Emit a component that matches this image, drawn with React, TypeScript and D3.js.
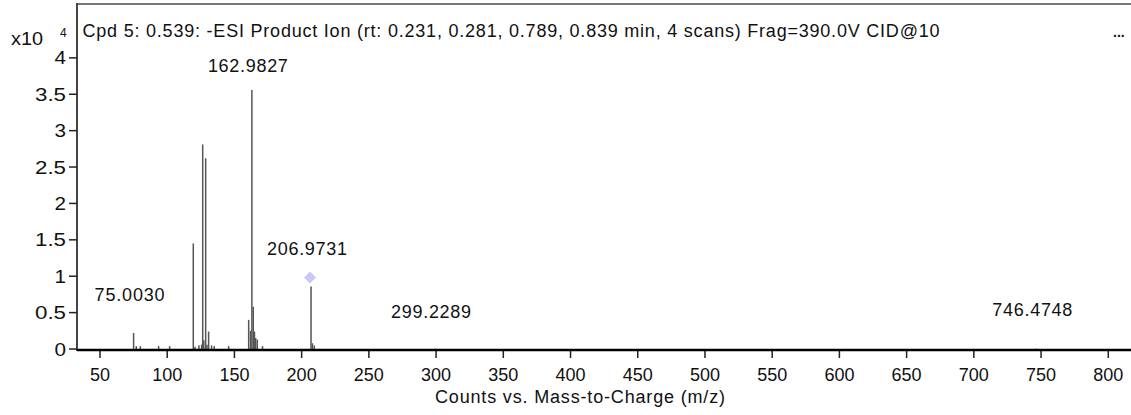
import React from "react";
import * as d3 from "d3";

const mzValues = [75.003, 77.0, 80.0, 93.6, 101.8, 119.4, 120.7, 123.6, 125.6, 126.4, 127.2, 128.6, 129.6, 130.8, 133.0, 135.0, 145.7, 160.6, 162.0, 162.9827, 164.0, 164.9, 165.8, 167.0, 170.9, 206.9731, 208.0, 209.4, 299.2289, 746.4748];
const intensities = [0.22, 0.04, 0.04, 0.04, 0.04, 1.45, 0.03, 0.05, 0.06, 2.81, 0.12, 2.62, 0.06, 0.24, 0.05, 0.04, 0.04, 0.40, 0.25, 3.56, 0.58, 0.24, 0.15, 0.13, 0.04, 0.86, 0.08, 0.05, 0.005, 0.005];
const labelMz = [75.003, 162.9827, 206.9731, 299.2289, 746.4748];
const labelText = ["75.0030", "162.9827", "206.9731", "299.2289", "746.4748"];
const labelLevel = [0.66, 3.8, 1.29, 0.42, 0.45];
const precursorMz = 206.9731;
const xTicks = [50, 100, 150, 200, 250, 300, 350, 400, 450, 500, 550, 600, 650, 700, 750, 800];
const yTicks = [0, 0.5, 1, 1.5, 2, 2.5, 3, 3.5, 4];
const title = "Cpd 5: 0.539: -ESI Product Ion (rt: 0.231, 0.281, 0.789, 0.839 min, 4 scans) Frag=390.0V CID@10";
const xTitle = "Counts vs. Mass-to-Charge (m/z)";

const W = 1131;
const H = 415;
const FONT = "'Liberation Sans', Arial, sans-serif";

export default function App() {
  const x = d3.scaleLinear().domain([32.9, 816.9]).range([77, 1131]);
  const y = d3.scaleLinear().domain([0, 4.74]).range([349, 4]);
  const peaks = mzValues.map((m, i) => ({ m, v: intensities[i] }));
  const precIdx = mzValues.indexOf(precursorMz);
  const px = x(precursorMz) - 1;
  const py = y(intensities[precIdx]) - 9;
  const fmt = d3.format("");

  return (
    <svg width={W} height={H} style={{ position: "absolute", left: 0, top: 0, background: "#fff" }} fontFamily={FONT}>
      {/* top border */}
      <line x1={77} x2={W} y1={4} y2={4} stroke="#777" strokeWidth={2} />
      {/* y axis */}
      <line x1={77} x2={77} y1={3} y2={351} stroke="#444" strokeWidth={2} />
      {yTicks.map((t) => {
        const s = fmt(t);
        return (
          <g key={"y" + t}>
            <line x1={69} x2={77} y1={y(t)} y2={y(t)} stroke="#222" strokeWidth={1.5} />
            <text x={66} y={y(t) + 6.5} textAnchor="end" fontSize={18} fill="#111"
              textLength={s.length > 1 ? 31 : 11.5} lengthAdjust="spacingAndGlyphs">{s}</text>
          </g>
        );
      })}
      {/* x axis */}
      {xTicks.map((t) => (
        <g key={"x" + t}>
          <line x1={x(t)} x2={x(t)} y1={350} y2={358} stroke="#222" strokeWidth={1.5} />
          <text x={x(t)} y={381} textAnchor="middle" fontSize={18} fill="#111">{t}</text>
        </g>
      ))}
      {/* peaks */}
      {peaks.map((p, i) => (
        <line key={"p" + i} x1={x(p.m)} x2={x(p.m)} y1={y(0)} y2={y(p.v)} stroke="#555" strokeWidth={1.5} />
      ))}
      <line x1={77} x2={W} y1={350} y2={350} stroke="#000" strokeWidth={2.5} />
      {/* precursor diamond */}
      <path d={`M${px},${py - 6} L${px + 6},${py} L${px},${py + 6} L${px - 6},${py} Z`} fill="#c8c8f8" />
      {/* peak labels */}
      {labelMz.map((m, i) => (
        <text key={"l" + i} x={x(m) - 4} y={y(labelLevel[i])} textAnchor="middle" fontSize={18} fill="#111"
          textLength={labelText[i].length * 10} lengthAdjust="spacing">{labelText[i]}</text>
      ))}
      {/* title */}
      <text x={82.5} y={37} fontSize={18} fill="#111" textLength={857} lengthAdjust="spacing">{title}</text>
      <text x={1113} y={37} fontSize={14} fontWeight="bold" fill="#111">...</text>
      {/* exponent */}
      <text x={11} y={45} fontSize={18} fill="#111" textLength={32} lengthAdjust="spacingAndGlyphs">x10</text>
      <text x={60} y={37} fontSize={12} fill="#111">4</text>
      {/* x title */}
      <text x={580} y={403} textAnchor="middle" fontSize={18} fill="#111" textLength={290} lengthAdjust="spacing">{xTitle}</text>
    </svg>
  );
}
